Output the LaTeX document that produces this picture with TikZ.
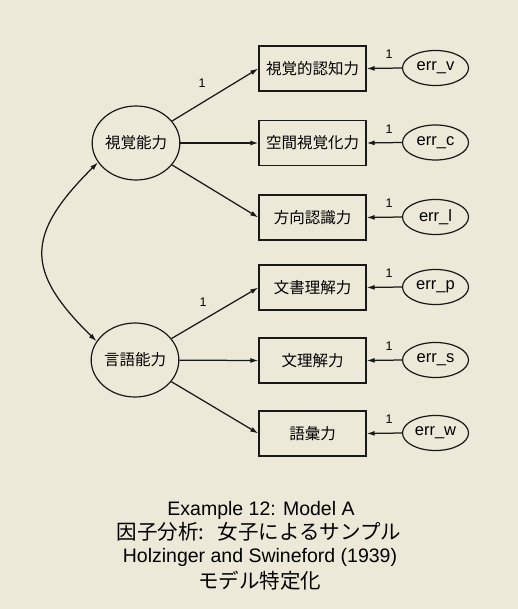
\documentclass[tikz,border=0pt]{standalone}
\usepackage{fontspec}
\setmainfont{Liberation Sans}
\newfontfamily\cjk{Noto Sans CJK JP}
\usetikzlibrary{arrows.meta,shapes.geometric}
\definecolor{bgbeige}{RGB}{236,233,216}
\definecolor{ink}{RGB}{25,25,25}
\tikzset{
  obsbox/.style={draw=ink,line width=1.3pt,rectangle,minimum width=107pt,minimum height=45pt,inner sep=0pt,font=\cjk\fontsize{15.5}{16}\selectfont},
  latent/.style={draw=ink,line width=1.2pt,ellipse,minimum width=78pt,minimum height=74pt,inner sep=0pt,font=\cjk\fontsize{15.5}{16}\selectfont},
  errnode/.style={draw=ink,line width=1.2pt,ellipse,minimum width=66pt,minimum height=35pt,inner sep=0pt,font=\fontsize{16.5}{17}\selectfont},
  conn/.style={draw=ink,line width=1.25pt,-{Latex[length=8pt,width=5pt]}},
  biconn/.style={draw=ink,line width=1.25pt,{Latex[length=8pt,width=5pt]}-{Latex[length=8pt,width=5pt]}},
  wlabel/.style={inner sep=0pt,font=\fontsize{12.5}{13}\selectfont},
  captxt/.style={inner sep=0pt,font=\fontsize{19.5}{20}\selectfont},
  capcjk/.style={inner sep=0pt,font=\cjk\fontsize{20.5}{21}\selectfont},
}
\begin{document}
\begin{tikzpicture}[x=1pt,y=-1pt]
\useasboundingbox (0,0) rectangle (518,609);
\fill[bgbeige] (0,0) rectangle (518,609);

% latent factors
\node[latent] (vis) at (136,143) {視覚能力};
\node[latent] (ver) at (135,360) {言語能力};

% observed variables
\node[obsbox] (b1) at (312.5,68.5) {視覚的認知力};
\node[obsbox] (b2) at (312.5,143) {空間視覚化力};
\node[obsbox] (b3) at (312.5,217.5) {方向認識力};
\node[obsbox] (b4) at (312.5,287.5) {文書理解力};
\node[obsbox] (b5) at (312.5,360.5) {文理解力};
\node[obsbox] (b6) at (312.5,433.5) {語彙力};

% error terms
\node[errnode] (e1) at (435.5,68) {err\_v};
\node[errnode] (e2) at (435.5,142.5) {err\_c};
\node[errnode] (e3) at (435.5,217) {err\_l};
\node[errnode] (e4) at (435.5,287) {err\_p};
\node[errnode] (e5) at (435.5,360) {err\_s};
\node[errnode] (e6) at (435.5,433) {err\_w};

% factor loadings
\draw[conn] (vis) -- (b1.west);
\draw[conn] (vis) -- (b2.west);
\draw[conn] (vis) -- (b3.west);
\draw[conn] (ver) -- (b4.west);
\draw[conn] (ver) -- (b5.west);
\draw[conn] (ver) -- (b6.west);

% error paths
\draw[conn] (e1.west) -- (b1.east);
\draw[conn] (e2.west) -- (b2.east);
\draw[conn] (e3.west) -- (b3.east);
\draw[conn] (e4.west) -- (b4.east);
\draw[conn] (e5.west) -- (b5.east);
\draw[conn] (e6.west) -- (b6.east);

% covariance
\draw[biconn] (vis.207) .. controls (25,235) and (25,271) .. (ver.154);

% weight labels
\node[wlabel] (w1) at (202,83) {1};
\node[wlabel] (w4) at (203,302) {1};
\node[wlabel] (we1) at (389,54.5) {1};
\node[wlabel] (we2) at (389,129) {1};
\node[wlabel] (we3) at (389,203.5) {1};
\node[wlabel] (we4) at (389,273.5) {1};
\node[wlabel] (we5) at (389,346.5) {1};
\node[wlabel] (we6) at (389,419.5) {1};

% caption
\node[captxt] (c1) at (261,510) {Example 12: Model A};
\node[capcjk] (c2) at (259,532) {因子分析: \hspace{0.35em}女子によるサンプル};
\node[captxt] (c3) at (260,557) {Holzinger and Swineford (1939)};
\node[capcjk] (c4) at (259.5,581) {モデル特定化};
\end{tikzpicture}
\end{document}
